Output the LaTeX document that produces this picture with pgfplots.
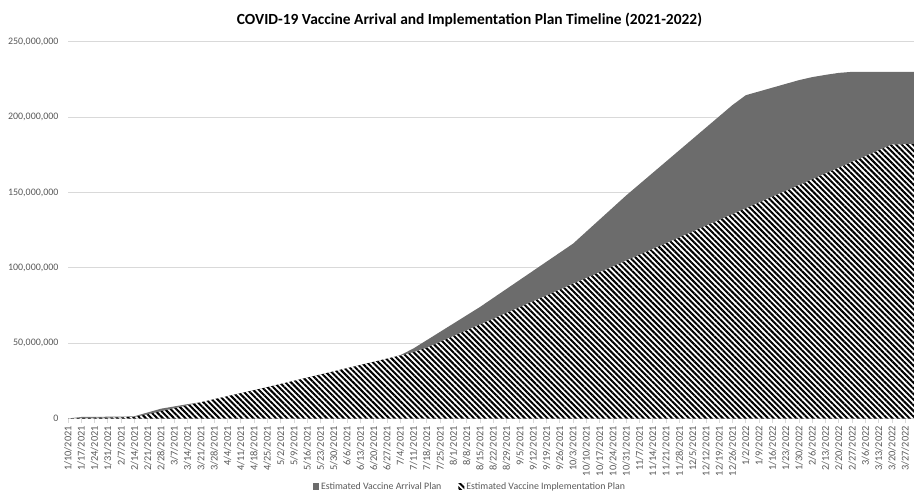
\documentclass[border=0pt]{standalone}
\usepackage{pgfplots}
\pgfplotsset{compat=1.18}
\usepackage{pgfplotstable}
\usepackage{fontspec}
\setmainfont{Carlito}
\usetikzlibrary{patterns.meta}

\definecolor{arrivalgray}{RGB}{108,108,108}
\definecolor{ticktext}{RGB}{89,89,89}
\definecolor{gridgray}{RGB}{217,217,217}

% Weekly cumulative doses, in millions
\pgfplotstableread{
idx date arrival implementation
0 1/10/2021 0.0 0.0
1 1/17/2021 1.0 0.4
2 1/24/2021 1.0 0.5
3 1/31/2021 1.2 0.6
4 2/7/2021 1.2 0.8
5 2/14/2021 1.5 1.0
6 2/21/2021 4.0 2.8
7 2/28/2021 6.5 4.8
8 3/7/2021 8.0 6.8
9 3/14/2021 9.5 8.8
10 3/21/2021 10.8 10.8
11 3/28/2021 12.8 12.8
12 4/4/2021 14.8 14.8
13 4/11/2021 16.8 16.8
14 4/18/2021 18.8 18.8
15 4/25/2021 20.8 20.8
16 5/2/2021 22.9 22.9
17 5/9/2021 25.0 25.0
18 5/16/2021 27.1 27.1
19 5/23/2021 29.2 29.2
20 5/30/2021 31.3 31.3
21 6/6/2021 33.4 33.4
22 6/13/2021 35.5 35.5
23 6/20/2021 37.6 37.6
24 6/27/2021 39.7 39.7
25 7/4/2021 42.0 41.8
26 7/11/2021 46.5 44.0
27 7/18/2021 52.0 47.0
28 7/25/2021 57.5 50.8
29 8/1/2021 63.0 54.7
30 8/8/2021 68.5 58.5
31 8/15/2021 74.0 62.4
32 8/22/2021 80.0 66.2
33 8/29/2021 86.0 70.1
34 9/5/2021 92.0 73.9
35 9/12/2021 98.0 77.8
36 9/19/2021 104.0 81.6
37 9/26/2021 110.0 85.5
38 10/3/2021 116.0 89.4
39 10/10/2021 124.0 93.2
40 10/17/2021 132.0 97.1
41 10/24/2021 140.0 100.9
42 10/31/2021 148.0 104.8
43 11/7/2021 155.5 108.6
44 11/14/2021 163.0 112.5
45 11/21/2021 170.5 116.3
46 11/28/2021 178.0 120.2
47 12/5/2021 185.5 124.0
48 12/12/2021 193.0 127.9
49 12/19/2021 200.5 131.7
50 12/26/2021 208.0 135.6
51 1/2/2022 214.5 139.5
52 1/9/2022 217.0 143.3
53 1/16/2022 219.5 147.2
54 1/23/2022 222.0 151.0
55 1/30/2022 224.5 154.9
56 2/6/2022 226.5 158.7
57 2/13/2022 228.0 162.6
58 2/20/2022 229.3 166.4
59 2/27/2022 230.0 170.3
60 3/6/2022 230.0 174.1
61 3/13/2022 230.0 178.0
62 3/20/2022 230.0 181.8
63 3/27/2022 230.0 182.0
64 4/3/2022 230.0 182.0
}\vaccine

\begin{document}
\begin{tikzpicture}
\begin{axis}[
  at={(68bp,74.5bp)}, anchor=south west,
  scale only axis, width=850.6bp, height=376.8bp,
  xmin=0, xmax=64, ymin=0, ymax=250,
  enlargelimits=false,
  axis x line*=bottom, axis y line*=left,
  x axis line style={gridgray, line width=0.8bp},
  y axis line style={draw=none},
  xtick={0,...,64},
  xticklabels from table={\vaccine}{date},
  ytick={0,50,...,250},
  yticklabels={0,{50,000,000},{100,000,000},{150,000,000},{200,000,000},{250,000,000}},
  ymajorgrids, grid style={gridgray, line width=0.8bp},
  ytick style={draw=none},
  xtick style={gridgray, line width=0.8bp},
  tick align=outside, major tick length=4bp,
  yticklabel style={font=\fontsize{10}{11}\selectfont, text=ticktext, xshift=-2bp},
  xticklabel style={rotate=90, anchor=east, font=\fontsize{10.4}{11}\selectfont, text=ticktext},
  legend style={at={(0.4726,-0.1818)}, anchor=center, draw=none, fill=none,
    legend columns=2, font=\fontsize{9.9}{11}\selectfont, text=ticktext,
    /tikz/every even column/.append style={column sep=15bp}},
  legend image code/.code={\path[#1] (0bp,-2.5bp) rectangle (6bp,3.5bp);},
]
\addplot[draw=none, fill=arrivalgray]
  table[x=idx, y=arrival]{\vaccine} \closedcycle;
\addlegendentry{Estimated Vaccine Arrival Plan}
\addplot[draw=none, fill=white,
  postaction={pattern={Lines[angle=-45, distance=4bp, line width=2bp]}, pattern color=black}]
  table[x=idx, y=implementation]{\vaccine} \closedcycle;
\addlegendentry{Estimated Vaccine Implementation Plan}
\end{axis}
\node[font=\fontsize{15.5}{18}\selectfont\bfseries] at (469.5bp,473bp)
  {COVID-19 Vaccine Arrival and Implementation Plan Timeline (2021-2022)};
\pgfresetboundingbox
\path[use as bounding box] (0,0) rectangle (914bp,493bp);
\end{tikzpicture}
\end{document}
